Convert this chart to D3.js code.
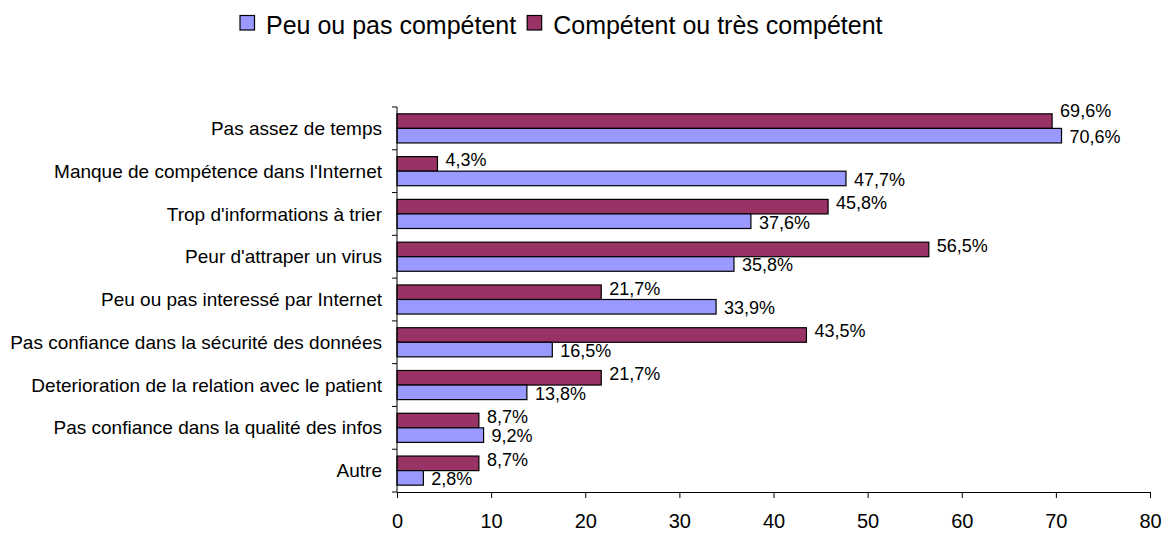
<!DOCTYPE html>
<html>
<head>
<meta charset="utf-8">
<script src="https://cdn.jsdelivr.net/npm/d3@7"></script>
<style>
  body { margin: 0; background: #fff; }
  svg { display: block; font-family: "Liberation Sans", Arial, sans-serif; }
</style>
</head>
<body>
<svg id="chart"></svg>
<script>
// data
const categories = [
  "Pas assez de temps",
  "Manque de compétence dans l'Internet",
  "Trop d'informations à trier",
  "Peur d'attraper un virus",
  "Peu ou pas interessé par Internet",
  "Pas confiance dans la sécurité des données",
  "Deterioration de la relation avec le patient",
  "Pas confiance dans la qualité des infos",
  "Autre"
];
const peuCompetent = [70.6, 47.7, 37.6, 35.8, 33.9, 16.5, 13.8, 9.2, 2.8];
const competent = [69.6, 4.3, 45.8, 56.5, 21.7, 43.5, 21.7, 8.7, 8.7];
const seriesNames = ["Peu ou pas compétent", "Compétent ou très compétent"];
const xTicks = [0, 10, 20, 30, 40, 50, 60, 70, 80];

const W = 1168, H = 534;
const colors = {"peu": "#9999ff", "comp": "#993366"};

const svg = d3.select("#chart").attr("width", W).attr("height", H);

const x = d3.scaleLinear().domain([0, 80]).range([397, 1150]);
const y = d3.scaleBand().domain(categories).range([107, 492]);
// two bars in each row: compétent on top, peu below
const yInner = d3.scaleBand().domain(["comp", "peu"]).range([0, y.bandwidth()]).paddingOuter(0.47);

const rows = categories.map((c, i) => ({cat: c, peu: peuCompetent[i], comp: competent[i]}));
const bars = [];
rows.forEach(r => {
  bars.push({cat: r.cat, key: "comp", v: r.comp});
  bars.push({cat: r.cat, key: "peu", v: r.peu});
});

const fmt = v => d3.format(".1f")(v).replace(".", ",") + "%";

// data labels (drawn first, bars sit above them like in the original)
svg.append("g").selectAll("text")
  .data(bars)
  .join("text")
    .attr("x", d => x(d.v) + 8)
    .attr("y", d => y(d.cat) + yInner(d.key) + yInner.bandwidth() / 2
      + (d.key === "comp" ? (d.v === 69.6 ? -10 : -4) : 1))
    .attr("dy", "0.35em")
    .attr("font-size", 18)
    .attr("fill", "#000")
    .text(d => fmt(d.v));

svg.append("g").selectAll("rect")
  .data(bars)
  .join("rect")
    .attr("x", x(0))
    .attr("y", d => y(d.cat) + yInner(d.key))
    .attr("width", d => x(d.v) - x(0))
    .attr("height", yInner.bandwidth())
    .attr("fill", d => colors[d.key])
    .attr("stroke", "#000")
    .attr("stroke-width", 1.2);

// x axis
const xAxis = svg.append("g")
  .attr("transform", `translate(0,492)`)
  .call(d3.axisBottom(x).tickValues(xTicks).tickSize(6).tickSizeOuter(0).tickPadding(16));
xAxis.selectAll("text").attr("font-size", 20).attr("fill", "#000").attr("font-family", "Liberation Sans, Arial, sans-serif");
xAxis.selectAll("line, path").attr("stroke", "#000");

// y axis: ticks at band boundaries
const yAxis = svg.append("g");
yAxis.append("line")
  .attr("x1", x(0)).attr("x2", x(0))
  .attr("y1", y.range()[0]).attr("y2", y.range()[1])
  .attr("stroke", "#000");
const bounds = categories.map(c => y(c)).concat([y.range()[1]]);
yAxis.selectAll(".tick")
  .data(bounds)
  .join("line")
    .attr("x1", x(0) - 5).attr("x2", x(0))
    .attr("y1", d => d).attr("y2", d => d)
    .attr("stroke", "#000");
yAxis.selectAll("text")
  .data(categories)
  .join("text")
    .attr("x", x(0) - 15)
    .attr("y", d => y(d) + y.bandwidth() / 2)
    .attr("dy", "0.35em")
    .attr("text-anchor", "end")
    .attr("font-size", 19)
    .attr("fill", "#000")
    .text(d => d);

// legend
const legend = svg.append("g");
let lx = 240;
[["peu", seriesNames[0]], ["comp", seriesNames[1]]].forEach(([k, name]) => {
  legend.append("rect")
    .attr("x", lx).attr("y", 15.5).attr("width", 14.5).attr("height", 14.5)
    .attr("fill", colors[k]).attr("stroke", "#000").attr("stroke-width", 1.2);
  const t = legend.append("text")
    .attr("x", lx + 26).attr("y", 25).attr("dy", "0.35em")
    .attr("font-size", 25).attr("fill", "#000")
    .text(name);
  lx += 26 + t.node().getComputedTextLength() + 11;
});
</script>
</body>
</html>
